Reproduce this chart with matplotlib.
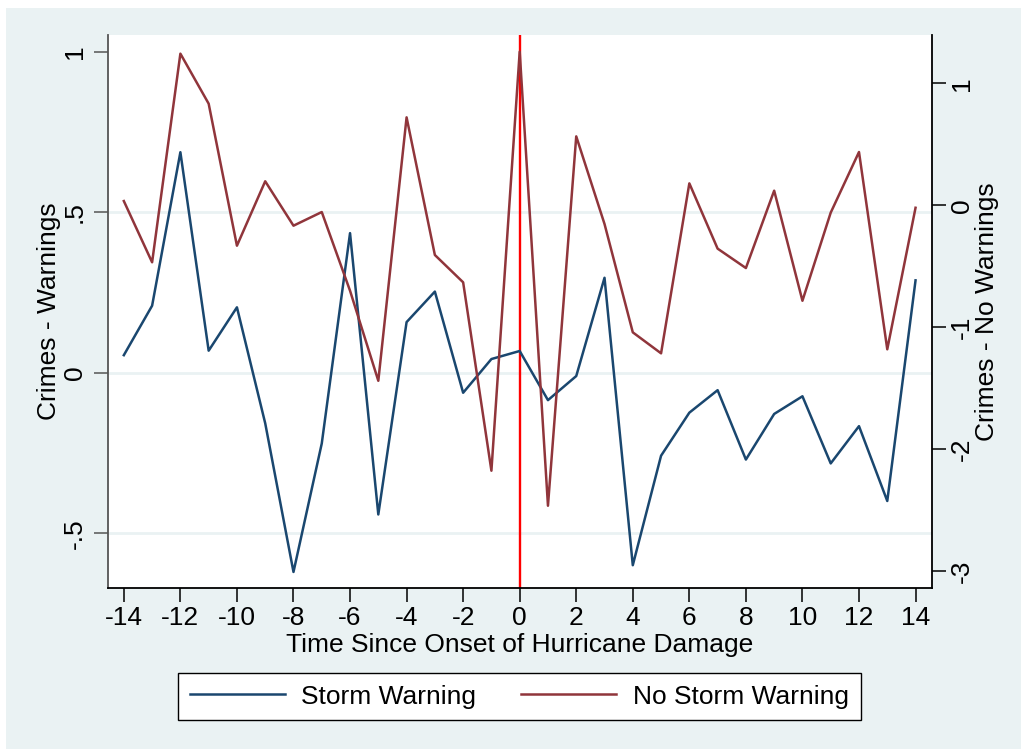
import matplotlib
matplotlib.use("Agg")
import matplotlib.pyplot as plt
from matplotlib.patches import Rectangle

plt.rcParams['font.family'] = ['Liberation Sans', 'DejaVu Sans']

# event time and the two coefficient series
periods = list(range(-14, 15))
storm_warning = [0.055, 0.209, 0.687, 0.069, 0.204, -0.157, -0.620, -0.220, 0.435, -0.441,
                 0.158, 0.253, -0.062, 0.043, 0.068, -0.085, -0.010, 0.296, -0.599, -0.258,
                 -0.124, -0.054, -0.270, -0.128, -0.073, -0.282, -0.166, -0.399, 0.288]
no_storm_warning = [0.035, -0.467, 1.243, 0.833, -0.331, 0.197, -0.167, -0.055, -0.70, -1.438,
                    0.721, -0.407, -0.631, -2.175, 1.259, -2.462, 0.565, -0.153, -1.041, -1.213,
                    0.180, -0.355, -0.514, 0.120, -0.782, -0.060, 0.437, -1.180, -0.020]

xticks = list(range(-14, 15, 2))
xtick_labels = [str(v) for v in xticks]
left_ticks = [-0.5, 0, 0.5, 1]
left_labels = ['-.5', '0', '.5', '1']
right_ticks = [-3, -2, -1, 0, 1]
right_labels = ['-3', '-2', '-1', '0', '1']

bg = '#EAF2F3'
navy = '#1A476F'
maroon = '#90353B'
fs = 19

fig = plt.figure(figsize=(10.21, 7.49), dpi=100, facecolor='white')
fig.patches.append(Rectangle((6 / 1021, 0), 1 - 6 / 1021, 1 - 8 / 749,
                             transform=fig.transFigure, facecolor=bg, edgecolor='none', zorder=-10))

ax = fig.add_axes([0.1055, 0.2145, 0.807, 0.7388])
ax.set_facecolor('white')
ax2 = ax.twinx()

for g in [-0.5, 0, 0.5]:
    ax.axhline(g, color=bg, lw=2, zorder=0)
ax.axvline(0, color='red', lw=1.7, zorder=1)

l1, = ax.plot(periods, storm_warning, color=navy, lw=1.8, zorder=2)
l2, = ax2.plot(periods, no_storm_warning, color=maroon, lw=1.8, zorder=2)

ax.set_xlim(-14.57, 14.57)
ax.set_ylim(-0.671, 1.052)
ax2.set_ylim(-3.139, 1.396)

ax.set_xticks(xticks)
ax.set_xticklabels(xtick_labels)
ax.set_yticks(left_ticks)
ax.set_yticklabels(left_labels, rotation=90, va='center')
ax2.set_yticks(right_ticks)
ax2.set_yticklabels(right_labels, rotation=90, va='center')

ax.tick_params(axis='both', labelsize=fs, length=10, width=1.1, direction='out')
ax.tick_params(axis='y', colors='#555555', labelcolor='black', pad=5)
ax.tick_params(axis='x', pad=3)
ax2.tick_params(axis='y', labelsize=fs, length=10, width=1.1, pad=3)

for s in ['top', 'right']:
    ax.spines[s].set_visible(False)
ax.spines['left'].set_color('#555555')
ax.spines['left'].set_linewidth(1.3)
ax.spines['bottom'].set_linewidth(1.3)
for s in ['top', 'left', 'bottom']:
    ax2.spines[s].set_visible(False)
ax2.spines['right'].set_linewidth(1.3)

ax.set_xlabel('Time Since Onset of Hurricane Damage', fontsize=fs, labelpad=2)
ax.set_ylabel('Crimes - Warnings', fontsize=fs, labelpad=1)
ax2.set_ylabel('Crimes - No Warnings', fontsize=fs, rotation=90, labelpad=1)

leg = fig.legend([l1, l2], ['Storm Warning', 'No Storm Warning'], ncol=2, loc='center',
                 bbox_to_anchor=(0.5087, 0.07), fontsize=fs, frameon=True, fancybox=False,
                 edgecolor='black', framealpha=1, handlelength=3.6, handletextpad=0.62,
                 columnspacing=1.7, borderpad=0.45)
leg.get_frame().set_linewidth(1.0)

fig.savefig('out.png', dpi=100, facecolor=fig.get_facecolor())
